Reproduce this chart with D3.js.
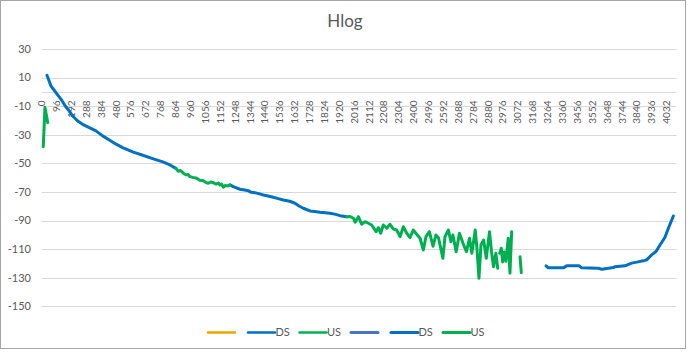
<!DOCTYPE html>
<html>
<head>
<meta charset="utf-8">
<script src="https://cdn.jsdelivr.net/npm/d3@7"></script>
<style>
  body { margin: 0; background: #fff; }
  text { font-family: Lato, "Open Sans", sans-serif; fill: #595959; }
</style>
</head>
<body>
<div id="chart_hlog"></div>
<script>
var width = 689,
    height = 352

// y axis tick labels
var yTicks = [30, 10, -10, -30, -50, -70, -90, -110, -130, -150]

// category labels on the x axis (every 96th bin)
var xTicks = [0, 96, 192, 288, 384, 480, 576, 672, 768, 864, 960, 1056, 1152, 1248, 1344,
              1440, 1536, 1632, 1728, 1824, 1920, 2016, 2112, 2208, 2304, 2400, 2496, 2592,
              2688, 2784, 2880, 2976, 3072, 3168, 3264, 3360, 3456, 3552, 3648, 3744, 3840,
              3936, 4032]

var binCount = 4096

// DS series: [bin, value], null value = gap
var dsPoints = [
  [34, 11.6], [60, 4.1], [92, -0.5], [125, -5.2], [152, -9.9], [178, -13.4], [200, -16.9],
  [232, -20.4], [264, -22.7], [307, -25], [350, -27.3], [393, -30.8], [436, -33.6],
  [480, -36.6], [522, -39], [587, -42], [652, -44.3], [716, -46.7], [781, -49], [828, -51.1],
  [866, -53.5],
  [867, null],
  [1215, -65.1], [1236, -66.3], [1279, -68.1], [1300, -68.5], [1333, -69.1], [1350, -70.2],
  [1376, -70.5], [1400, -71.2], [1430, -72.1], [1460, -72.8], [1494, -73.7], [1520, -74.5],
  [1559, -75.6], [1600, -76.5], [1634, -77.9], [1660, -79.8], [1688, -81.4], [1731, -83.3],
  [1760, -83.7], [1795, -84.2], [1830, -84.6], [1860, -84.9], [1890, -85.5], [1925, -86.6],
  [1968, -87.3],
  [1969, null],
  [3254, -121.7], [3268, -123.1], [3365, -123.1], [3387, -121.7], [3468, -121.7], [3484, -123.1],
  [3591, -123.4], [3613, -124.1], [3688, -122.9], [3699, -122.3], [3763, -121.7], [3806, -119.8],
  [3839, -119.1], [3881, -118.2], [3903, -117.5], [3935, -114], [3963, -111.7], [3989, -107.1],
  [4021, -101.7], [4043, -95.4], [4075, -86.8]
]

// US series
var usPoints = [
  [10, -38.3], [21, -11], [39, -21.5],
  [40, null],
  [866, -53.5], [880, -55.5], [895, -55], [914, -56.9], [930, -58], [945, -57.8], [957, -59.3],
  [975, -59.8], [1000, -60.4], [1020, -61.8], [1043, -62.1], [1060, -63.5], [1075, -63.9],
  [1090, -63], [1107, -63.5], [1125, -64.5], [1140, -63.8], [1150, -65.1], [1160, -64.5],
  [1172, -66.7], [1185, -65.5], [1200, -65.8], [1215, -65.1],
  [1216, null],
  [1968, -87.3], [1990, -87.2], [2011, -88.4], [2022, -91.2], [2043, -87.3], [2064, -92.6],
  [2086, -90.8], [2107, -91.9], [2129, -93.1], [2157, -97.8], [2172, -95], [2187, -98.9],
  [2204, -93.1], [2226, -95.4], [2247, -92.6], [2268, -95.9], [2290, -96.6], [2312, -101.3],
  [2333, -94.3], [2355, -98.9], [2376, -102], [2397, -96.6], [2419, -99.6], [2441, -102.4],
  [2462, -110.6], [2479, -101.3], [2501, -97.8], [2525, -108], [2543, -100.1], [2560, -102],
  [2588, -116.4], [2602, -101.3], [2624, -96.6], [2640, -104.8], [2653, -100.1], [2674, -111.8],
  [2695, -98.9], [2718, -105.9], [2740, -111.8], [2760, -102.4], [2775, -112.9], [2797, -96.6],
  [2808, -109.4], [2821, -130.4], [2834, -107.1], [2851, -103.6], [2868, -116.4], [2889, -97.8],
  [2902, -111.8], [2915, -122.3], [2930, -112.9], [2942, -123.4],
  [2948, null],
  [2955, -112.9], [2965, -109.4], [2974, -119], [2985, -112], [2995, -118.5], [3010, -102.4],
  [3021, -126.9], [3032, -97.8],
  [3050, null],
  [3086, -115.3], [3094, -126.5]
]

// legend entries (empty label = unnamed series)
var legendNames = ["", "DS", "US", "", "DS", "US"]
var legendColors = ["#e6a800", "#0070c0", "#00b050", "#4472c4", "#0070c0", "#00b050"]

var svg = d3.select("#chart_hlog")
    .append("svg")
    .attr("width", width)
    .attr("height", height)

// chart border
svg.append("rect")
    .attr("x", 0.5).attr("y", 0.5)
    .attr("width", 685).attr("height", 348)
    .attr("fill", "#fff")
    .attr("stroke", "#a6a6a6")

var x = d3.scaleLinear().domain([0, binCount]).range([41.7, 676.6])
var y = d3.scaleLinear().domain([-150, 30]).range([306.3, 49])

svg.append("text")
    .attr("x", 345).attr("y", 27)
    .attr("text-anchor", "middle")
    .style("font-size", "17px")
    .text("Hlog")

// gridlines + y labels
svg.selectAll(".grid")
    .data(yTicks)
    .enter()
    .append("line")
    .attr("x1", x(0)).attr("x2", x(binCount))
    .attr("y1", function(d){return Math.round(y(d)) + 0.5})
    .attr("y2", function(d){return Math.round(y(d)) + 0.5})
    .attr("stroke", "#d9d9d9")

svg.selectAll(".ylab")
    .data(yTicks)
    .enter()
    .append("text")
    .attr("x", 31).attr("y", function(d){return y(d)})
    .attr("dy", "0.35em")
    .attr("text-anchor", "end")
    .style("font-size", "11px")
    .text(function(d){return d})

// category axis sits at value 0
svg.append("line")
    .attr("x1", x(0)).attr("x2", x(binCount))
    .attr("y1", Math.round(y(0)) + 0.5).attr("y2", Math.round(y(0)) + 0.5)
    .attr("stroke", "#d9d9d9")

svg.selectAll(".xlab")
    .data(xTicks)
    .enter()
    .append("text")
    .attr("transform", function(d){return "translate(" + x(d) + "," + 100.5 + ") rotate(-90)"})
    .attr("dy", "0.35em")
    .attr("text-anchor", "end")
    .style("font-size", "10px")
    .text(function(d){return d})

var line = d3.line()
    .defined(function(d){return d[1] !== null})
    .x(function(d){return x(d[0])})
    .y(function(d){return y(d[1])})

svg.append("path")
    .attr("d", line(dsPoints))
    .attr("fill", "none")
    .attr("stroke", "#0070c0")
    .attr("stroke-width", 3)
    .attr("stroke-linejoin", "round")
    .attr("stroke-linecap", "round")

svg.append("path")
    .attr("d", line(usPoints))
    .attr("fill", "none")
    .attr("stroke", "#00b050")
    .attr("stroke-width", 3)
    .attr("stroke-linejoin", "round")
    .attr("stroke-linecap", "round")

// legend
var legendX = [208, 248, 299.5, 351, 391, 443]
var legend = svg.selectAll(".leg")
    .data(legendNames)
    .enter()
    .append("g")
    .attr("transform", function(d, i){return "translate(" + legendX[i] + ",332.5)"})

legend.append("line")
    .attr("x1", 0).attr("x2", 27)
    .attr("stroke", function(d, i){return legendColors[i]})
    .attr("stroke-width", function(d, i){return i < 3 ? 2.5 : 3})
    .attr("stroke-linecap", "round")

legend.append("text")
    .attr("x", 27.5).attr("dy", "0.35em")
    .style("font-size", "11px")
    .text(function(d){return d})
</script>
</body>
</html>
